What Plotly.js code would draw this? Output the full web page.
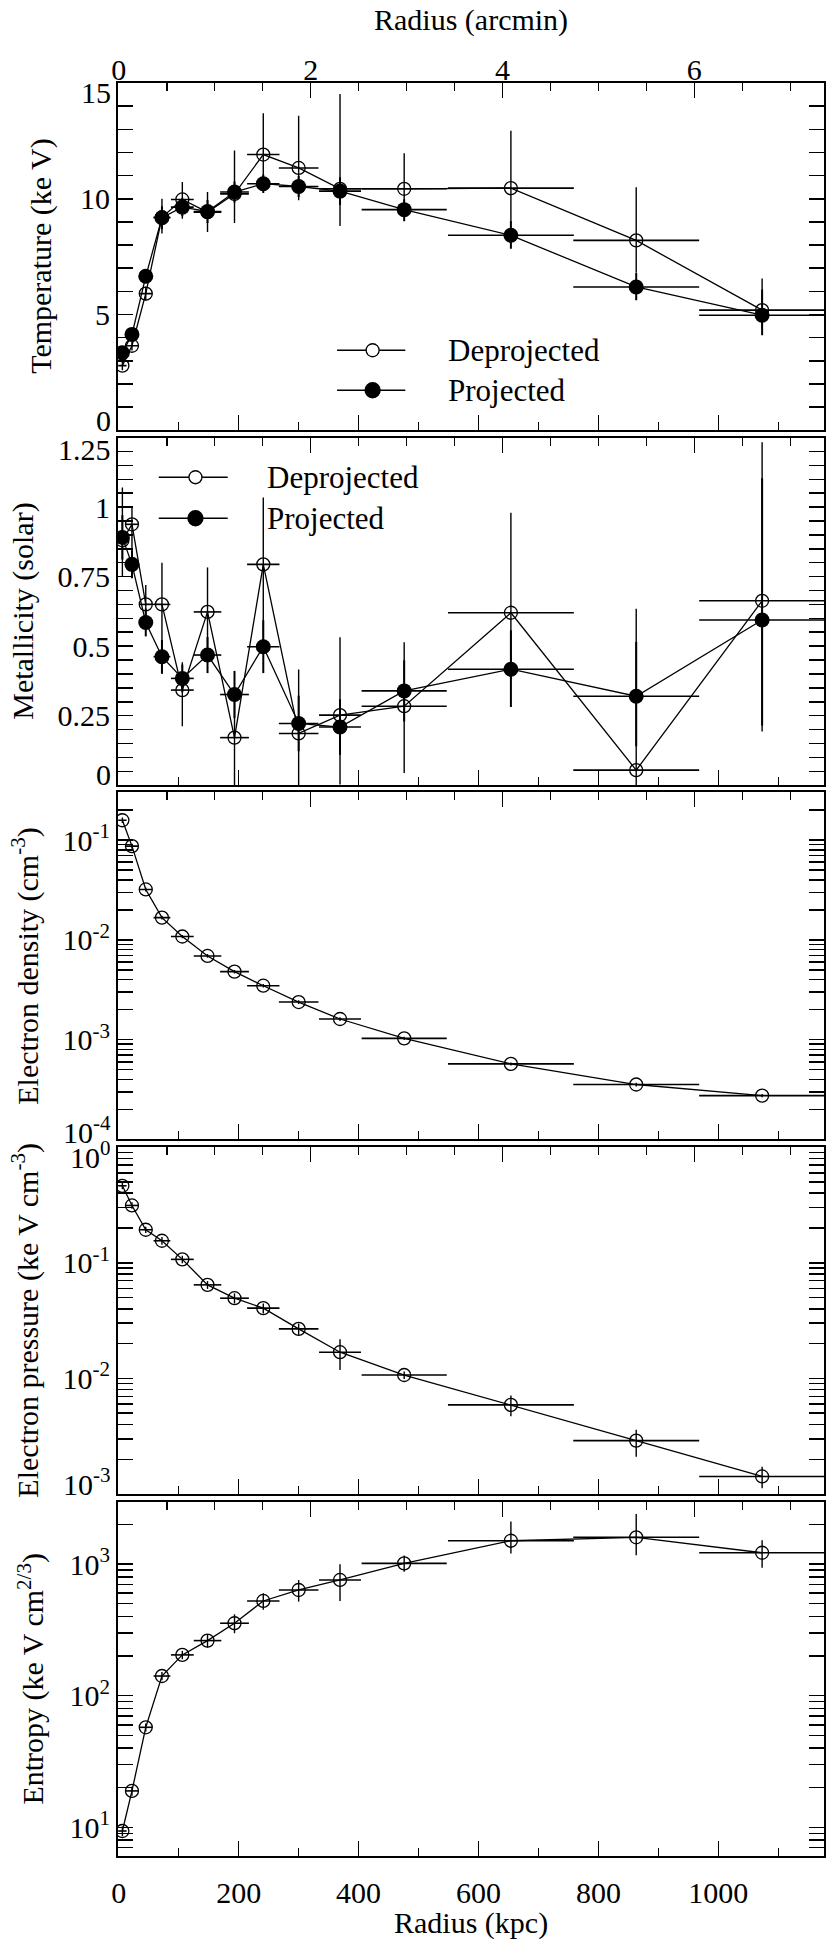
<!DOCTYPE html>
<html><head><meta charset="utf-8">
<script src="https://cdn.plot.ly/plotly-3.0.1.min.js"></script>
<style>html,body{margin:0;padding:0;background:#fff}#chart{width:830px;height:1941px}</style>
</head><body><div id="chart"></div>
<script>
// ---------------- data ----------------
const radiusKpc = [6, 22, 45, 72, 106, 148, 193, 241, 300, 369, 476, 654, 863, 1073];
const binHalfWidthKpc = [7, 11, 11, 14, 19, 23, 24, 27, 33, 35, 71, 105, 105, 105];
const kpcPerArcmin = 160;

const tempDeproj     = [2.79, 3.65, 5.90, 9.20, 9.97, 9.42, 10.21, 11.91, 11.33, 10.43, 10.43, 10.46, 8.20, 5.19];
const tempDeprojUp   = [0.2, 0.2, 0.3, 0.8, 0.75, 0.87, 1.87, 1.78, 2.26, 4.1, 1.54, 2.48, 2.3, 1.36];
const tempDeprojDn   = [0.2, 0.2, 0.3, 0.7, 0.83, 0.86, 1.26, 1.6, 1.4, 1.61, 1.2, 1.4, 1.4, 0.8];
const tempProj       = [3.35, 4.14, 6.65, 9.18, 9.64, 9.45, 10.29, 10.65, 10.53, 10.33, 9.53, 8.42, 6.19, 4.97];
const tempProjUp     = [0.2, 0.2, 0.25, 0.5, 0.4, 0.5, 0.45, 0.4, 0.45, 0.6, 0.45, 0.64, 0.6, 1.11];
const tempProjDn     = [0.2, 0.2, 0.25, 0.5, 0.4, 0.5, 0.45, 0.4, 0.45, 0.6, 0.5, 0.58, 0.57, 0.87];

const metDeproj      = [0.88, 0.938, 0.65, 0.65, 0.342, 0.623, 0.171, 0.794, 0.186, 0.252, 0.284, 0.62, 0.054, 0.663];
const metDeprojUp    = [0.19, 0.06, 0.07, 0.15, 0.10, 0.16, 0.16, 0.24, 0.23, 0.28, 0.23, 0.36, 0.58, 0.57];
const metDeprojDn    = [0.13, 0.18, 0.07, 0.25, 0.13, 0.18, 0.20, 0.30, 0.19, 0.25, 0.24, 0.24, 0.06, 0.47];
const metProj        = [0.891, 0.794, 0.585, 0.462, 0.384, 0.468, 0.326, 0.498, 0.222, 0.209, 0.339, 0.417, 0.32, 0.594];
const metProjUp      = [0.08, 0.05, 0.05, 0.06, 0.05, 0.065, 0.085, 0.095, 0.10, 0.10, 0.11, 0.14, 0.195, 0.51];
const metProjDn      = [0.08, 0.05, 0.05, 0.06, 0.05, 0.065, 0.085, 0.095, 0.10, 0.10, 0.11, 0.136, 0.18, 0.38];

const density        = [0.158, 0.087, 0.032, 0.0167, 0.0108, 0.0069, 0.0048, 0.00347, 0.00238, 0.00161, 0.00103, 0.000571, 0.000355, 0.000275];
const densityErr     = [0.01, 0.005, 0.0015, 0.0007, 0.0004, 0.0003, 0.0002, 0.00014, 0.0001, 0.00007, 0.00004, 0.00002, 0.000015, 0.00001];

const pressure       = [0.463, 0.313, 0.193, 0.155, 0.107, 0.0644, 0.0494, 0.0405, 0.0268, 0.01685, 0.0107, 0.0059, 0.0029, 0.00142];
const pressureUp     = [0.03, 0.02, 0.012, 0.012, 0.008, 0.005, 0.005, 0.004, 0.003, 0.005, 0.0008, 0.0012, 0.0007, 0.0003];
const pressureDn     = [0.03, 0.02, 0.012, 0.012, 0.008, 0.005, 0.005, 0.004, 0.003, 0.005, 0.0008, 0.0012, 0.0008, 0.0003];

const entropy        = [9.37, 18.9, 57.5, 141, 204, 262, 355, 524, 635, 757, 1012, 1503, 1596, 1218];
const entropyUp      = [0.8, 1.5, 4, 10, 15, 30, 60, 75, 120, 240, 150, 600, 800, 300];
const entropyDn      = [0.8, 1.5, 4, 10, 15, 30, 57, 75, 117, 233, 140, 300, 430, 280];

const legendLabels = ['Deprojected', 'Projected'];
const kpcTickLabels = ['0', '200', '400', '600', '800', '1000'];
const arcminTickLabels = ['0', '2', '4', '6'];

// ---------------- layout geometry ----------------
const FONT = 'Liberation Serif, Times New Roman, Times, serif';
const W = 830, H = 1941, L = 117.5, R = 824, T = 82.7, B = 1856;
const px = x => (x - L) / (R - L);
const py = y => (B - y) / (B - T);
const xRange = [-1.3, 1176.2];
const panels = [[82.7, 430], [437.3, 785], [792, 1139.3], [1147, 1494], [1501.7, 1856]];

const black = '#000';
function series(y, up, dn, xa, ya, filled) {
  return {
    type: 'scatter', mode: 'lines+markers', x: radiusKpc, y: y, xaxis: xa, yaxis: ya,
    line: {color: black, width: 1.3},
    marker: filled ? {symbol: 'circle', size: 15, color: black}
                   : {symbol: 'circle-open', size: 13, color: black, line: {width: 1.3, color: black}},
    error_x: {type: 'data', array: binHalfWidthKpc, symmetric: true, width: 0, thickness: 1.6, color: black},
    error_y: {type: 'data', array: up, arrayminus: dn, symmetric: false, width: 0, thickness: filled ? 2 : 1.4, color: black},
    showlegend: false, hoverinfo: 'skip'
  };
}

const data = [
  series(tempDeproj, tempDeprojUp, tempDeprojDn, 'x', 'y', false),
  series(tempProj, tempProjUp, tempProjDn, 'x', 'y', true),
  series(metDeproj, metDeprojUp, metDeprojDn, 'x2', 'y2', false),
  series(metProj, metProjUp, metProjDn, 'x2', 'y2', true),
  series(density, densityErr, densityErr, 'x3', 'y3', false),
  series(pressure, pressureUp, pressureDn, 'x4', 'y4', false),
  series(entropy, entropyUp, entropyDn, 'x5', 'y5', false)
];
// placeholders so that the arcmin axes get their subplots
['y', 'y2', 'y3', 'y4', 'y5'].forEach((ya, i) => {
  data.push({type: 'scatter', mode: 'markers', x: [null], y: [null], xaxis: 'x' + (6 + i), yaxis: ya, showlegend: false, hoverinfo: 'skip'});
});

const tickFont = {family: FONT, size: 30, color: black};
function bottomX(anchor, labels) {
  return {
    anchor: anchor, range: xRange, showline: true, linewidth: 2, linecolor: black, mirror: true,
    ticks: 'inside', ticklen: 15, tickwidth: 1.5, tickcolor: black,
    tickmode: 'array', tickvals: [0, 200, 400, 600, 800, 1000], ticktext: kpcTickLabels,
    minor: {tickmode: 'linear', tick0: 0, dtick: 100, ticks: 'inside', ticklen: 8, tickwidth: 1.5, tickcolor: black},
    showgrid: false, zeroline: false, showticklabels: labels, tickfont: tickFont, ticklabelstandoff: 9
  };
}
function topX(over, anchor, labels) {
  return {
    overlaying: over, anchor: anchor, side: 'top',
    range: [xRange[0] / kpcPerArcmin, xRange[1] / kpcPerArcmin],
    showline: false, ticks: 'inside', ticklen: 15, tickwidth: 1.5, tickcolor: black,
    tickmode: 'array', tickvals: [0, 2, 4, 6], ticktext: arcminTickLabels,
    minor: {tickmode: 'linear', tick0: 0, dtick: 0.5, ticks: 'inside', ticklen: 8, tickwidth: 1.5, tickcolor: black},
    showgrid: false, zeroline: false, showticklabels: labels, tickfont: tickFont, ticklabelstandoff: -4
  };
}
function yAx(i, extra) {
  return Object.assign({
    domain: [py(panels[i][1]), py(panels[i][0])],
    showline: true, linewidth: 2, linecolor: black, mirror: 'allticks',
    ticks: 'inside', ticklen: 15, tickwidth: 1.5, tickcolor: black,
    showgrid: false, zeroline: false, tickfont: tickFont
  }, extra);
}
const logMinor = {dtick: 'D1', ticks: 'inside', ticklen: 7, tickwidth: 1.5, tickcolor: black};
const sup = e => '10<sup>' + e + '</sup>';

const layout = {
  width: W, height: H, margin: {l: L, r: W - R, t: T, b: H - B, pad: 0},
  paper_bgcolor: '#fff', plot_bgcolor: '#fff', showlegend: false,
  font: {family: FONT, color: black},
  xaxis: bottomX('y', false), xaxis2: bottomX('y2', false), xaxis3: bottomX('y3', false),
  xaxis4: bottomX('y4', false), xaxis5: bottomX('y5', true),
  xaxis6: topX('x', 'y', true), xaxis7: topX('x2', 'y2', false), xaxis8: topX('x3', 'y3', false),
  xaxis9: topX('x4', 'y4', false), xaxis10: topX('x5', 'y5', false),
  yaxis: yAx(0, {range: [0, 15], tickmode: 'array', tickvals: [0, 5, 10, 15], ticktext: ['', '5', '10', ''],
    minor: {tickmode: 'linear', tick0: 0, dtick: 1, ticks: 'inside', ticklen: 7, tickwidth: 1.5, tickcolor: black}}),
  yaxis2: yAx(1, {range: [0, 1.25], tickmode: 'array', tickvals: [0, 0.25, 0.5, 0.75, 1, 1.25], ticktext: ['', '0.25', '0.5', '0.75', '1', ''],
    minor: {tickmode: 'linear', tick0: 0, dtick: 0.05, ticks: 'inside', ticklen: 7, tickwidth: 1.5, tickcolor: black}}),
  yaxis3: yAx(2, {type: 'log', range: [-4, -0.52], tickmode: 'array', tickvals: [1e-4, 1e-3, 1e-2, 1e-1],
    ticktext: ['', sup('-3'), sup('-2'), sup('-1')], minor: logMinor}),
  yaxis4: yAx(3, {type: 'log', range: [-3, 0], tickmode: 'array', tickvals: [1e-3, 1e-2, 1e-1, 1],
    ticktext: ['', sup('-2'), sup('-1'), ''], minor: logMinor}),
  yaxis5: yAx(4, {type: 'log', range: [0.782, 3.473], tickmode: 'array', tickvals: [10, 100, 1000],
    ticktext: [sup('1'), sup('2'), sup('3')], minor: logMinor}),
  annotations: [], shapes: []
};

const ann = layout.annotations;
function endLabel(text, yref, yval, shift) {
  ann.push({text: text, xref: 'paper', x: 0, xanchor: 'right', xshift: -5, yref: yref, y: yval, yanchor: 'middle',
            yshift: shift, showarrow: false, font: tickFont});
}
endLabel('15', 'y', 15, -9); endLabel('0', 'y', 0, 10);
endLabel('1.25', 'y2', 1.25, -12); endLabel('0', 'y2', 0, 11);
endLabel(sup('-4'), 'y3', -4, 9);
endLabel(sup('0'), 'y4', 0, -8); endLabel(sup('-3'), 'y4', -3, 12);

function title(text, xPix, yPix, angle) {
  ann.push({text: text, xref: 'paper', yref: 'paper', x: px(xPix), y: py(yPix), xanchor: 'center', yanchor: 'middle',
            textangle: angle, showarrow: false, font: {family: FONT, size: 30, color: black}});
}
title('Radius (arcmin)', 471, 20, 0);
title('Radius (kpc)', 471, 1923, 0);
title('Temperature (ke V)', 41, 256, -90);
title('Metallicity (solar)', 23, 611, -90);
title('Electron density (cm<sup>-3</sup>)', 25, 966, -90);
title('Electron pressure (ke V cm<sup>-3</sup>)', 25, 1320, -90);
title('Entropy (ke V cm<sup>2/3</sup>)', 30, 1679, -90);

// legends (drawn in pixel positions)
function legendRow(x0, x1, cx, yPix, textX, filled, label) {
  layout.shapes.push({type: 'line', xref: 'paper', yref: 'paper', x0: px(x0), x1: px(x1), y0: py(yPix), y1: py(yPix),
                      line: {color: black, width: 1.5}});
  const r = filled ? 7.5 : 6.5;
  layout.shapes.push({type: 'circle', xref: 'paper', yref: 'paper', xsizemode: 'pixel', ysizemode: 'pixel',
                      xanchor: px(cx), yanchor: py(yPix), x0: -r, x1: r, y0: -r, y1: r,
                      line: {color: black, width: 1.3}, fillcolor: filled ? black : '#fff'});
  ann.push({text: label, xref: 'paper', yref: 'paper', x: px(textX), y: py(yPix), xanchor: 'left', yanchor: 'middle',
            showarrow: false, font: {family: FONT, size: 31, color: black}});
}
legendRow(336.7, 405, 372.3, 350, 446, false, legendLabels[0]);
legendRow(336.7, 405, 372.3, 390, 446, true, legendLabels[1]);
legendRow(158.3, 227.3, 195, 477, 265, false, legendLabels[0]);
legendRow(158.3, 227.3, 195, 518, 265, true, legendLabels[1]);

Plotly.newPlot('chart', data, layout, {staticPlot: true, displayModeBar: false});
</script></body></html>
